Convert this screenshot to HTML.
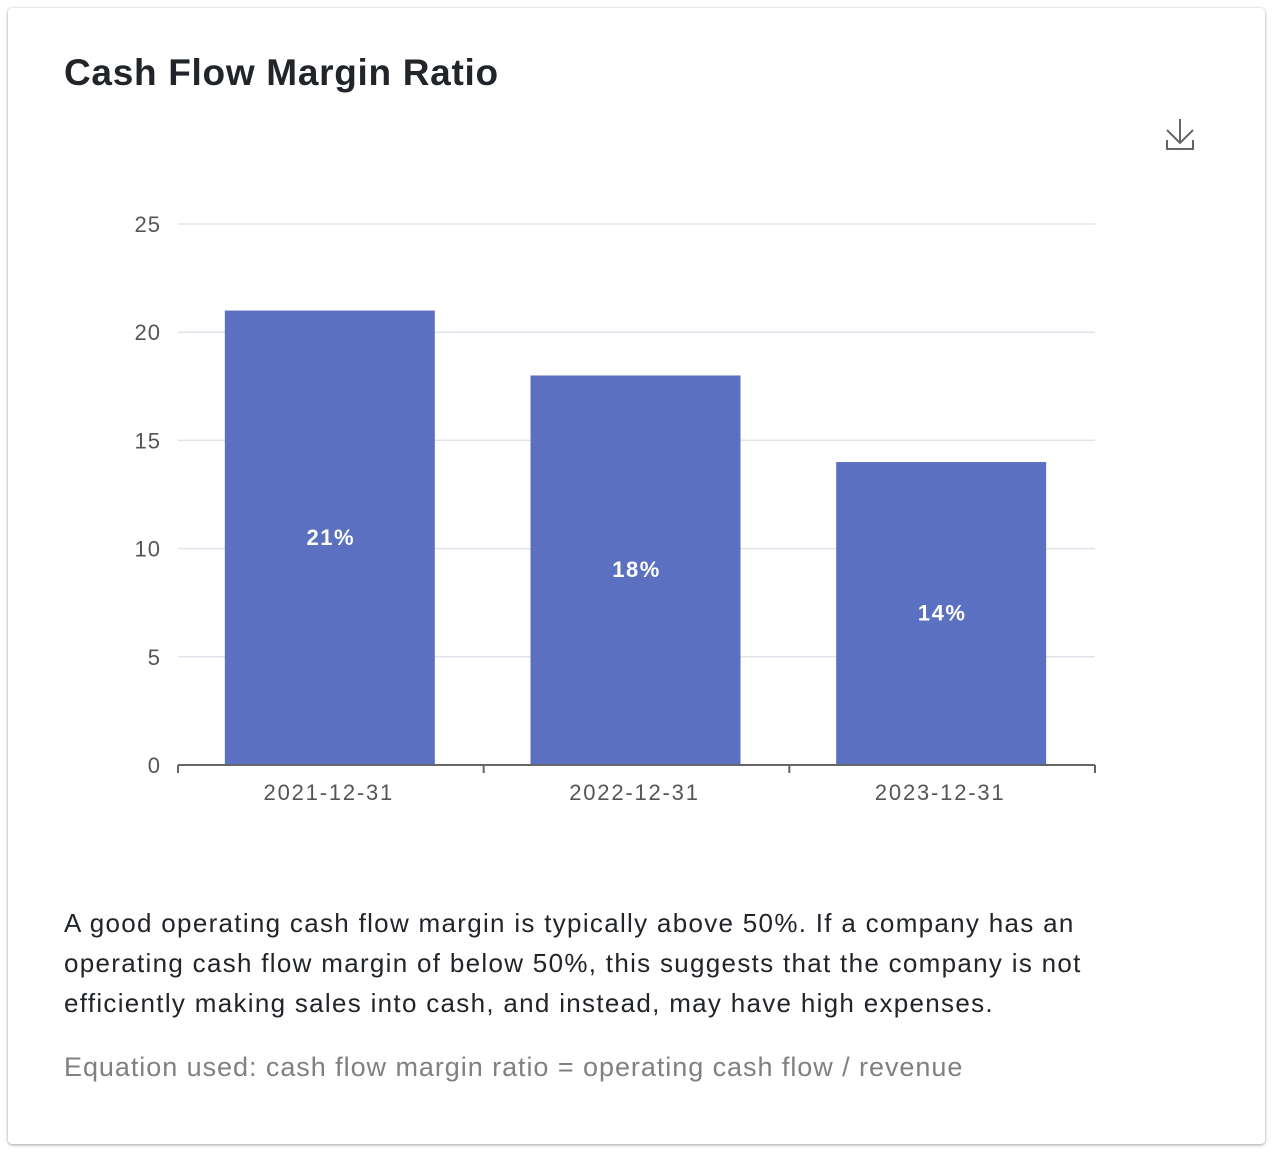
<!DOCTYPE html>
<html><head><meta charset="utf-8"><style>
body{margin:0;background:#fff;width:1274px;height:1154px;overflow:hidden;font-family:"Liberation Sans",sans-serif;}
.card{position:absolute;left:8px;top:8px;width:1257px;height:1136px;background:#fff;border-radius:4px;box-shadow:0 1px 3px rgba(0,0,0,0.35),0 0 1px rgba(0,0,0,0.15);}
.title{position:absolute;left:56px;top:44px;font-size:37px;font-weight:bold;color:#212529;letter-spacing:0.7px;}
.desc{position:absolute;left:56px;top:895px;width:1045px;font-size:26px;line-height:40px;color:#212529;letter-spacing:1.3px;}
.eq{position:absolute;left:56px;top:1044px;font-size:27px;color:#808080;letter-spacing:0.95px;}
svg{position:absolute;left:0;top:0;}
</style></head><body>
<div class="card">
<div class="title">Cash Flow Margin Ratio</div>
<div class="desc">A good operating cash flow margin is typically above 50%. If a company has an operating cash flow margin of below 50%, this suggests that the company is not efficiently making sales into cash, and instead, may have high expenses.</div>
<div class="eq">Equation used: cash flow margin ratio = operating cash flow / revenue</div>
</div>
<svg id="chart" width="1274" height="1154">
<g fill="none" stroke="#666" stroke-width="2">
<path d="M1180 119 V142 M1167 130 L1180 143 L1193 130 M1167 140 V149 H1193 V140"/>
</g>
</svg>
<script>
const categories=["2021-12-31","2022-12-31","2023-12-31"];
const values=[21,18,14];
const labels=["21%","18%","14%"];
const yTicks=[0,5,10,15,20,25];
const svg=document.getElementById('chart');
const NS='http://www.w3.org/2000/svg';
const x0=178,x1=1095,y0=765,y1=224,yMax=25;
const y=v=>y0-(v/yMax)*(y0-y1);
const band=(x1-x0)/categories.length;
function mk(t,a){const e=document.createElementNS(NS,t);for(const k in a)e.setAttribute(k,a[k]);svg.appendChild(e);return e;}
yTicks.forEach(t=>{
 if(t>0){const l=mk('line',{x1:x0,x2:x1,y1:y(t),y2:y(t),stroke:'#e3e3ee','stroke-width':1.5});
 
 }
 const tx=mk('text',{x:161,y:y(t)+8,'text-anchor':'end','font-size':22,fill:'#555','font-family':'Liberation Sans, sans-serif','letter-spacing':1});
 tx.textContent=t;
 
 
});
categories.forEach((c,i)=>{
 const cx=x0+band*(i+0.5),w=210;
 const r=mk('rect',{x:cx-w/2-1,y:y(values[i]),width:w,height:y0-y(values[i]),fill:'#5b70c0'});
 
 
 const lb=mk('text',{x:cx,y:(y(values[i])+y0)/2+7,'text-anchor':'middle','font-size':22,fill:'#fff','font-family':'Liberation Sans, sans-serif','letter-spacing':1.5,'font-weight':'bold'});
 lb.textContent=labels[i];
 
 
 const xl=mk('text',{x:cx-2,y:800,'text-anchor':'middle','font-size':22,fill:'#555','font-family':'Liberation Sans, sans-serif','letter-spacing':1.8});
 xl.textContent=c;
 
 
});
const ax=mk('line',{x1:x0,x2:x1,y1:y0,y2:y0,stroke:'#666','stroke-width':2});


for(let i=0;i<=categories.length;i++){
 const xx=x0+band*i;
 const tk=mk('line',{x1:xx,x2:xx,y1:y0,y2:y0+8,stroke:'#666','stroke-width':2});
 
 
}
</script>
</body></html>
